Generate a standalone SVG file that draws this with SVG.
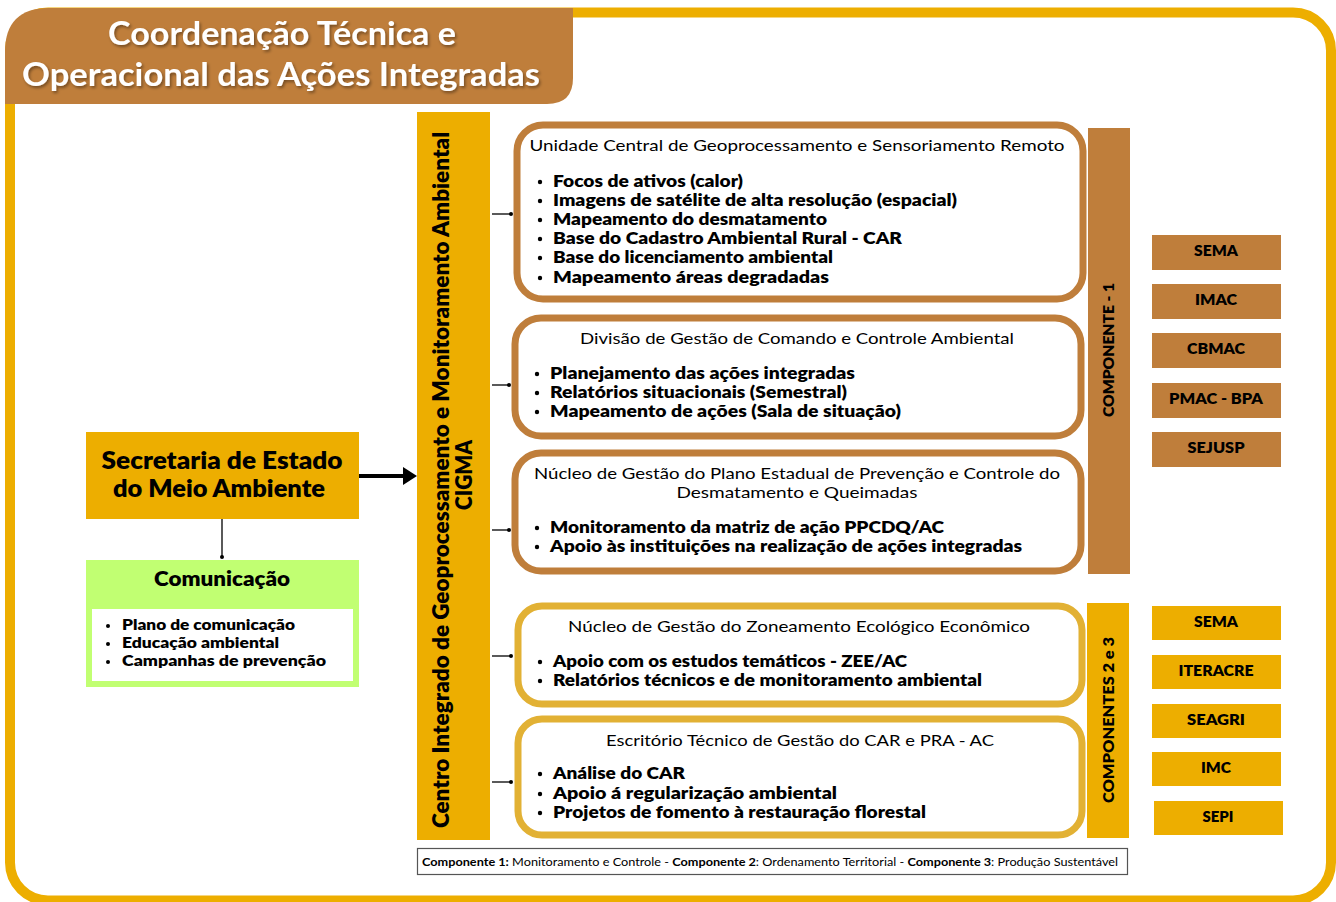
<svg xmlns="http://www.w3.org/2000/svg" width="1336" height="902" viewBox="0 0 1336 902">
<defs>
<style>
.t{font-family:"Lato","Open Sans",sans-serif;fill:#000}
.b{font-weight:700}
.h{font-weight:800}
.r{font-weight:400}
.c{text-anchor:middle}
.brown{fill:#BF7E3B}
.gold{fill:#EDAE00}
.box1{fill:#fff;stroke:#BF7E3B;stroke-width:7}
.box2{fill:#fff;stroke:#E2B134;stroke-width:7}
.conn{stroke:#000;stroke-width:1.3;fill:none}
.ag{font-family:"Lato","Open Sans",sans-serif;font-weight:800;font-size:15px;text-anchor:middle;fill:#000}
</style>
<filter id="sh" x="-10%" y="-20%" width="120%" height="150%">
<feDropShadow dx="1.5" dy="2" stdDeviation="1.8" flood-color="#000" flood-opacity="0.4"/>
</filter>
</defs>
<rect width="1336" height="902" fill="#fff"/>
<!-- outer frame -->
<rect x="10" y="12.5" width="1321" height="888" rx="38" fill="none" stroke="#EDAE00" stroke-width="10"/>
<!-- title banner -->
<g id="title">
<path d="M5,52 Q5,8 49,8 L573,8 L573,78 Q573,104 547,104 L5,104 Z" fill="#BF7E3B"/>
<g filter="url(#sh)" fill="#fff" font-family="Lato,'Open Sans',sans-serif" font-weight="700" font-size="32" text-anchor="middle">
<text x="282" y="45" textLength="348" lengthAdjust="spacingAndGlyphs">Coordenação Técnica e</text>
<text x="281" y="86" textLength="518" lengthAdjust="spacingAndGlyphs">Operacional das Ações Integradas</text>
</g>
</g>
<!-- connectors -->
<g id="connectors">
<line x1="359" y1="476" x2="404" y2="476" stroke="#000" stroke-width="4"/>
<path d="M403,467 L417,476 L403,485 Z" fill="#000"/>
<line class="conn" x1="222" y1="519" x2="222" y2="557"/>
<circle cx="222" cy="557" r="2" fill="#000"/>
<line class="conn" x1="492" y1="214" x2="512" y2="214"/><circle cx="511" cy="214" r="2" fill="#000"/>
<line class="conn" x1="492" y1="385" x2="510" y2="385"/><circle cx="509" cy="385" r="2" fill="#000"/>
<line class="conn" x1="492" y1="530" x2="510" y2="530"/><circle cx="509" cy="530" r="2" fill="#000"/>
<line class="conn" x1="492" y1="656" x2="512" y2="656"/><circle cx="511" cy="656" r="2" fill="#000"/>
<line class="conn" x1="492" y1="782" x2="512" y2="782"/><circle cx="511" cy="782" r="2" fill="#000"/>
</g>
<!-- Secretaria -->
<g id="secretaria">
<rect x="86" y="432" width="273" height="87" class="gold"/>
<text class="t h c" font-size="23.5" x="222" y="469" textLength="241" lengthAdjust="spacingAndGlyphs">Secretaria de Estado</text>
<text class="t h c" font-size="23.5" x="219" y="497" textLength="212" lengthAdjust="spacingAndGlyphs">do Meio Ambiente</text>
</g>
<!-- Comunicação -->
<g id="comunicacao">
<rect x="86" y="560" width="273" height="127" fill="#C1FF72"/>
<rect x="92" y="609" width="261" height="72" fill="#fff"/>
<text class="t h c" font-size="21" x="222" y="586" textLength="136" lengthAdjust="spacingAndGlyphs">Comunicação</text>
<g class="t h" font-size="15.5">
<circle cx="108" cy="626" r="2"/><text x="122" y="630" textLength="173" lengthAdjust="spacingAndGlyphs">Plano de comunicação</text>
<circle cx="108" cy="644" r="2"/><text x="122" y="648" textLength="157" lengthAdjust="spacingAndGlyphs">Educação ambiental</text>
<circle cx="108" cy="662" r="2"/><text x="122" y="666" textLength="204" lengthAdjust="spacingAndGlyphs">Campanhas de prevenção</text>
</g>
</g>
<!-- CIGMA bar -->
<g id="cigma">
<rect x="417" y="112" width="73" height="728" class="gold"/>
<text class="t h c" font-size="22" transform="translate(449,480) rotate(-90)" textLength="696" lengthAdjust="spacingAndGlyphs">Centro Integrado de Geoprocessamento e Monitoramento Ambiental</text>
<text class="t h c" font-size="22" transform="translate(472,475) rotate(-90)" textLength="70" lengthAdjust="spacingAndGlyphs">CIGMA</text>
</g>
<!-- Box 1 -->
<g id="box-unidade">
<rect x="517" y="125" width="566" height="174" rx="26" class="box1"/>
<text class="t r c" font-size="16" x="797" y="151" textLength="535" lengthAdjust="spacingAndGlyphs">Unidade Central de Geoprocessamento e Sensoriamento Remoto</text>
<g class="t h" font-size="17.5">
<circle cx="540" cy="182" r="2.2"/><text x="553" y="187" textLength="190" lengthAdjust="spacingAndGlyphs">Focos de ativos (calor)</text>
<circle cx="540" cy="201" r="2.2"/><text x="553" y="206" textLength="404" lengthAdjust="spacingAndGlyphs">Imagens de satélite de alta resolução (espacial)</text>
<circle cx="540" cy="220" r="2.2"/><text x="553" y="225" textLength="274" lengthAdjust="spacingAndGlyphs">Mapeamento do desmatamento</text>
<circle cx="540" cy="239" r="2.2"/><text x="553" y="244" textLength="349" lengthAdjust="spacingAndGlyphs">Base do Cadastro Ambiental Rural - CAR</text>
<circle cx="540" cy="258" r="2.2"/><text x="553" y="263" textLength="280" lengthAdjust="spacingAndGlyphs">Base do licenciamento ambiental</text>
<circle cx="540" cy="278" r="2.2"/><text x="553" y="283" textLength="276" lengthAdjust="spacingAndGlyphs">Mapeamento áreas degradadas</text>
</g>
</g>
<!-- Box 2 -->
<g id="box-divisao">
<rect x="515" y="318" width="566" height="118" rx="26" class="box1"/>
<text class="t r c" font-size="16" x="797" y="344" textLength="434" lengthAdjust="spacingAndGlyphs">Divisão de Gestão de Comando e Controle Ambiental</text>
<g class="t h" font-size="17.5">
<circle cx="537" cy="374" r="2.2"/><text x="550" y="379" textLength="305" lengthAdjust="spacingAndGlyphs">Planejamento das ações integradas</text>
<circle cx="537" cy="393" r="2.2"/><text x="550" y="398" textLength="297" lengthAdjust="spacingAndGlyphs">Relatórios situacionais (Semestral)</text>
<circle cx="537" cy="412" r="2.2"/><text x="550" y="417" textLength="351" lengthAdjust="spacingAndGlyphs">Mapeamento de ações (Sala de situação)</text>
</g>
</g>
<!-- Box 3 -->
<g id="box-nucleo-ppcdq">
<rect x="515" y="453" width="566" height="118" rx="26" class="box1"/>
<text class="t r c" font-size="16" x="797" y="479" textLength="526" lengthAdjust="spacingAndGlyphs">Núcleo de Gestão do Plano Estadual de Prevenção e Controle do</text>
<text class="t r c" font-size="16" x="797" y="498" textLength="241" lengthAdjust="spacingAndGlyphs">Desmatamento e Queimadas</text>
<g class="t h" font-size="17.5">
<circle cx="537" cy="528" r="2.2"/><text x="550" y="533" textLength="394" lengthAdjust="spacingAndGlyphs">Monitoramento da matriz de ação PPCDQ/AC</text>
<circle cx="537" cy="547" r="2.2"/><text x="550" y="552" textLength="472" lengthAdjust="spacingAndGlyphs">Apoio às instituições na realização de ações integradas</text>
</g>
</g>
<!-- Box 4 -->
<g id="box-zee">
<rect x="518" y="606" width="564" height="98" rx="24" class="box2"/>
<text class="t r c" font-size="16" x="799" y="632" textLength="462" lengthAdjust="spacingAndGlyphs">Núcleo de Gestão do Zoneamento Ecológico Econômico</text>
<g class="t h" font-size="17.5">
<circle cx="540" cy="662" r="2.2"/><text x="553" y="667" textLength="354" lengthAdjust="spacingAndGlyphs">Apoio com os estudos temáticos - ZEE/AC</text>
<circle cx="540" cy="681" r="2.2"/><text x="553" y="686" textLength="429" lengthAdjust="spacingAndGlyphs">Relatórios técnicos e de monitoramento ambiental</text>
</g>
</g>
<!-- Box 5 -->
<g id="box-car">
<rect x="518" y="719" width="564" height="116" rx="24" class="box2"/>
<text class="t r c" font-size="16" x="800" y="746" textLength="388" lengthAdjust="spacingAndGlyphs">Escritório Técnico de Gestão do CAR e PRA - AC</text>
<g class="t h" font-size="17.5">
<circle cx="540" cy="774" r="2.2"/><text x="553" y="779" textLength="132" lengthAdjust="spacingAndGlyphs">Análise do CAR</text>
<circle cx="540" cy="794" r="2.2"/><text x="553" y="799" textLength="284" lengthAdjust="spacingAndGlyphs">Apoio á regularização ambiental</text>
<circle cx="540" cy="813" r="2.2"/><text x="553" y="818" textLength="373" lengthAdjust="spacingAndGlyphs">Projetos de fomento à restauração florestal</text>
</g>
</g>
<!-- Component bars -->
<g id="componente-1">
<rect x="1088" y="128" width="42" height="446" class="brown"/>
<text class="t h c" font-size="15" transform="translate(1114,350) rotate(-90)" textLength="134" lengthAdjust="spacingAndGlyphs">COMPONENTE - 1</text>
</g>
<g id="componentes-2-3">
<rect x="1087" y="603" width="42" height="235" class="gold"/>
<text class="t h c" font-size="15" transform="translate(1114,720) rotate(-90)" textLength="166" lengthAdjust="spacingAndGlyphs">COMPONENTES 2 e 3</text>
</g>
<!-- Agencies component 1 -->
<g id="ag-sema-1"><rect x="1152" y="235" width="129" height="35" class="brown"/><text class="ag" x="1216" y="256" textLength="44" lengthAdjust="spacingAndGlyphs">SEMA</text></g>
<g id="ag-imac"><rect x="1152" y="284" width="129" height="35" class="brown"/><text class="ag" x="1216" y="305" textLength="42" lengthAdjust="spacingAndGlyphs">IMAC</text></g>
<g id="ag-cbmac"><rect x="1152" y="333" width="129" height="35" class="brown"/><text class="ag" x="1216" y="354" textLength="58" lengthAdjust="spacingAndGlyphs">CBMAC</text></g>
<g id="ag-pmac"><rect x="1152" y="383" width="129" height="35" class="brown"/><text class="ag" x="1216" y="404" textLength="94" lengthAdjust="spacingAndGlyphs">PMAC - BPA</text></g>
<g id="ag-sejusp"><rect x="1152" y="432" width="129" height="35" class="brown"/><text class="ag" x="1216" y="453" textLength="57" lengthAdjust="spacingAndGlyphs">SEJUSP</text></g>
<!-- Agencies components 2 and 3 -->
<g id="ag-sema-2"><rect x="1152" y="606" width="129" height="34" class="gold"/><text class="ag" x="1216" y="627" textLength="44" lengthAdjust="spacingAndGlyphs">SEMA</text></g>
<g id="ag-iteracre"><rect x="1152" y="655" width="129" height="34" class="gold"/><text class="ag" x="1216" y="676" textLength="75" lengthAdjust="spacingAndGlyphs">ITERACRE</text></g>
<g id="ag-seagri"><rect x="1152" y="704" width="129" height="34" class="gold"/><text class="ag" x="1216" y="725" textLength="58" lengthAdjust="spacingAndGlyphs">SEAGRI</text></g>
<g id="ag-imc"><rect x="1152" y="752" width="129" height="34" class="gold"/><text class="ag" x="1216" y="773" textLength="30" lengthAdjust="spacingAndGlyphs">IMC</text></g>
<g id="ag-sepi"><rect x="1154" y="801" width="129" height="34" class="gold"/><text class="ag" x="1218" y="822" textLength="31" lengthAdjust="spacingAndGlyphs">SEPI</text></g>
<!-- Legend -->
<g id="legend">
<rect x="417.5" y="848.5" width="710" height="26" fill="#fff" stroke="#555" stroke-width="1.2"/>
<text class="t" font-size="11" x="422" y="866" textLength="696" lengthAdjust="spacingAndGlyphs"><tspan font-weight="700">Componente 1:</tspan> Monitoramento e Controle - <tspan font-weight="700">Componente 2</tspan>: Ordenamento Territorial - <tspan font-weight="700">Componente 3</tspan>: Produção Sustentável</text>
</g>
</svg>
